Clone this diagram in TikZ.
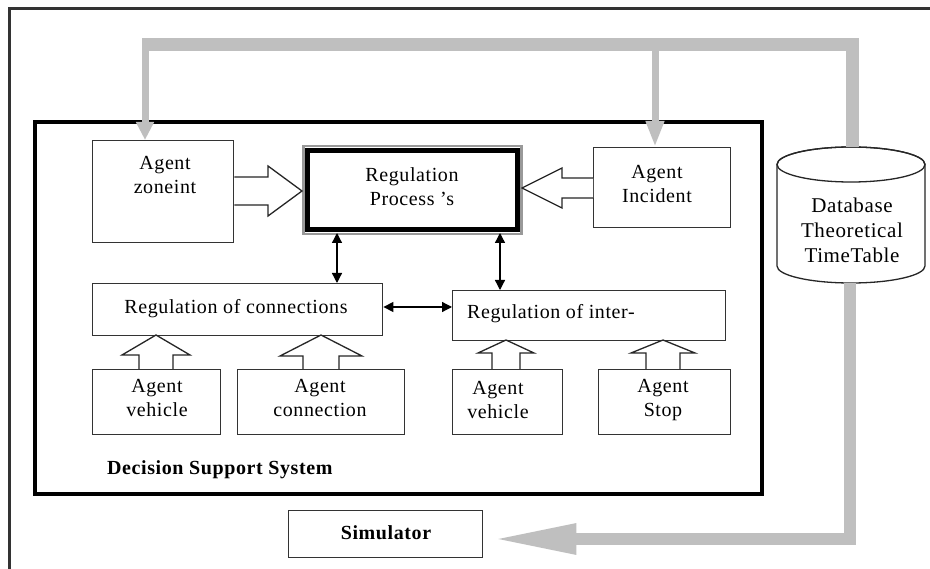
\documentclass[tikz,border=0pt]{standalone}
\usepackage{fontspec}
\setmainfont{Liberation Serif}[LetterSpace=3]
\usetikzlibrary{arrows.meta,calc}
\begin{document}
\begin{tikzpicture}[x=1pt,y=-1pt,
  font=\fontsize{20}{24}\selectfont,
  box/.style={draw=black!80, line width=1.4pt, fill=white, inner sep=0pt, anchor=north west},
  txt/.style={align=center, inner sep=0pt},
  blk/.style={draw=black!85, line width=1.3pt, fill=white, line join=miter},
  gline/.style={draw=black!25, line join=miter},
  dbl/.style={line width=1.3pt, {Triangle[length=10pt,width=10pt]}-{Triangle[length=10pt,width=10pt]}}
]
\useasboundingbox (0,0) rectangle (930,569);
\fill[white] (0,0) rectangle (930,569);
% outer frame (top and left only)
\draw[line width=3pt, black!80] (930,9) -- (9,9) -- (9,569);

% Decision Support System box
\node[draw, line width=4pt, minimum width=727pt, minimum height=372pt, anchor=north west, inner sep=0pt] (dss) at (33,120) {};
\node[anchor=west, inner sep=0pt, font=\fontsize{20}{24}\selectfont\bfseries] (dsslabel) at (107,470) {Decision Support System};

% boxes
\node[box, minimum width=141pt, minimum height=102pt] (zone) at (92,140) {};
\node[txt] (zonetxt) at (165,175) {Agent\\zoneint};

\node[draw=black!40, line width=2.5pt, fill=white, minimum width=218pt, minimum height=88pt, anchor=north west, inner sep=0pt] (rp) at (302,145) {};
\draw[line width=5pt] ($(rp.north west)+(5.5,5.5)$) coordinate (rpin1) rectangle ($(rp.south east)+(-5.5,-5.5)$) coordinate (rpin2);
\node[txt] (rptxt) at (412,187) {Regulation\\Process 's};

\node[box, minimum width=137pt, minimum height=80pt] (inc) at (593,147) {};
\node[txt] (inctxt) at (657,184) {Agent\\Incident};

\node[box, minimum width=290pt, minimum height=52pt] (conn) at (92,283) {};
\node[txt] (conntxt) at (236,309) {Regulation of connections};

\node[box, minimum width=273pt, minimum height=50pt] (inter) at (452,290) {};
\node[anchor=west, inner sep=0pt] (intertxt) at (467,314) {Regulation of inter-};

\node[box, minimum width=128pt, minimum height=65pt] (veh1) at (92,369) {};
\node[txt] (veh1txt) at (157,398) {Agent\\vehicle};
\node[box, minimum width=167pt, minimum height=65pt] (agconn) at (237,369) {};
\node[txt] (agconntxt) at (320,398) {Agent\\connection};
\node[box, minimum width=110pt, minimum height=65pt] (veh2) at (452,369) {};
\node[txt] (veh2txt) at (498,400) {Agent\\vehicle};
\node[box, minimum width=132pt, minimum height=65pt] (stop) at (598,369) {};
\node[txt] (stoptxt) at (663,400) {Agent\\Stop};

\node[box, minimum width=194pt, minimum height=47pt] (sim) at (288,510) {};
\node[inner sep=0pt, font=\fontsize{20}{24}\selectfont\bfseries] (simtxt) at (386,533) {Simulator};

% database cylinder
\draw[line width=1.3pt, draw=black!85, fill=white] (777,164.5) -- (777,266)
  arc[start angle=180, end angle=360, x radius=74pt, y radius=17pt] -- (925,164.5)
  arc[start angle=0, end angle=180, x radius=74pt, y radius=17.5pt] -- cycle;
\draw[line width=1.3pt, draw=black!85] (851,164.5) ellipse [x radius=74pt, y radius=17.5pt];
\coordinate (dbtop) at (852,147);
\coordinate (dbbot) at (850,283);
\node[txt, font=\fontsize{21}{25}\selectfont] (dbtxt) at (852,230) {Database\\Theoretical\\TimeTable};

% block arrows
\draw[blk] (zone.east |- 0,177) -- (268,177) -- (268,166) -- (rp.west |- 0,191) -- (268,216) -- (268,205) -- (zone.east |- 0,205);
\draw[blk] (inc.west |- 0,178) -- (562,178) -- (562,168) -- (522,188) -- (562,208) -- (562,198) -- (inc.west |- 0,198);
\draw[blk] (139,369) -- (139,355) -- (122,355) -- (156,335) -- (190,355) -- (173,355) -- (173,369);
\draw[blk] (303,369) -- (303,356) -- (280,356) -- (321,335) -- (362,356) -- (339,356) -- (339,369);
\draw[blk] (492,369) -- (492,353) -- (478,353) -- (506,340) -- (534,353) -- (520,353) -- (520,369);
\draw[blk] (646,369) -- (646,353) -- (631,353) -- (663,340) -- (695,353) -- (680,353) -- (680,369);

% double arrows
\draw[dbl] (337,233) -- (337,283);
\draw[dbl] (500,233) -- (500,290);
\draw[dbl] (conn.east |- 0,307) -- (inter.west |- 0,307);

% grey connectors
\draw[gline, line width=13pt] (142,45) -- (852,45) -- (dbtop);
\draw[gline, line width=7pt, -{Triangle[length=18pt,width=17pt]}] (145,45) -- (zone.north -| 145,0);
\draw[gline, line width=7pt, -{Triangle[length=26pt,width=17pt]}] (655,45) -- (inc.north -| 655,0);
\draw[gline, line width=12pt, -{Triangle[length=85pt,width=28pt]}] (dbbot) -- (850,539) -- ($(sim.east |- 0,539)+(8,0)$);
\end{tikzpicture}
\end{document}
